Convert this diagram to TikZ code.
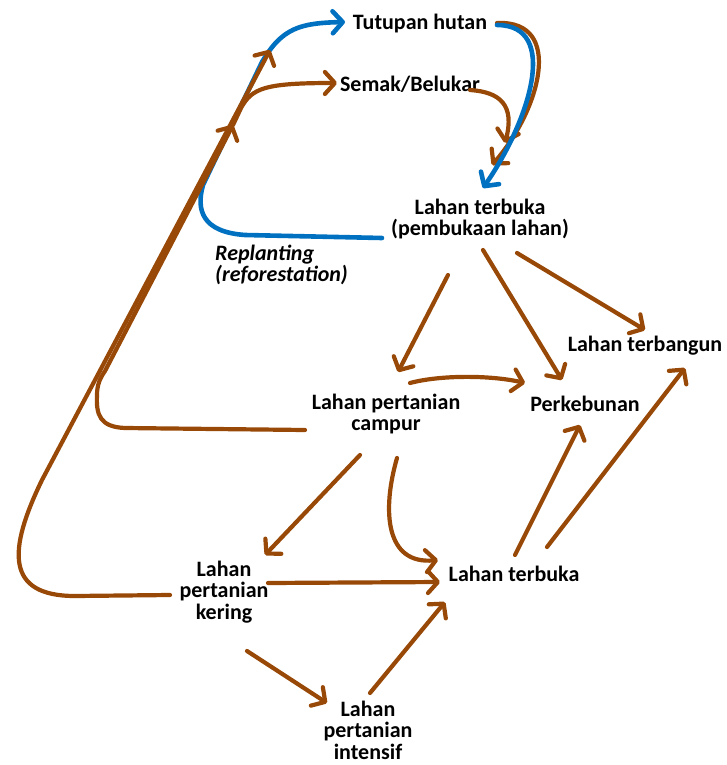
\documentclass[tikz,border=0pt]{standalone}
\usepackage{fontspec}
\setmainfont{Carlito}
\usepackage{tikz}
\usetikzlibrary{arrows.meta}
\usetikzlibrary{calc}
\definecolor{tanah}{RGB}{152,72,7}
\definecolor{hutan}{RGB}{0,112,192}
\tikzstyle{land}=[font=\bfseries\fontsize{22}{21.5}\selectfont,align=center,inner sep=0pt]
\tikzstyle{note}=[font=\bfseries\itshape\fontsize{22}{21.5}\selectfont,align=left,inner sep=0pt,anchor=west]
\tikzstyle{flow}=[draw=tanah,line width=4.2pt,line cap=round,line join=round,-{Straight Barb[length=10pt,width=22pt,round]}]
\tikzstyle{reflow}=[flow,draw=hutan,line width=4.6pt]

\begin{document}
\begin{tikzpicture}[x=1pt,y=-1pt]
\useasboundingbox (0,0) rectangle (727,765);

\node [land] (th) at (420,24) {Tutupan hutan};
\node [land] (sb) at (410,84) {Semak/Belukar};
\node [land] (pemb) at (480,219) {Lahan terbuka\\(pembukaan lahan)};
\node [note] (rep) at (215,265) {Replanting\\(reforestation)};
\node [land] (tb) at (645,346) {Lahan terbangun};
\node [land] (kb) at (585,404) {Perkebunan};
\node [land] (cp) at (386,414) {Lahan pertanian\\campur};
\node [land] (kr) at (224,592) {Lahan\\pertanian\\kering};
\node [land] (lt) at (514,574) {Lahan terbuka};
\node [land] (ins) at (368,730) {Lahan\\pertanian\\intensif};

\coordinate (up) at (270,50);
\coordinate (jn) at (233,125);

% replanting, under the brown lines
\draw [reflow] ($(pemb)+(-98,19)$) -- (245,235) .. controls (202,232) and (196,210) .. (203,185)
  -- (262,62) .. controls (282,28) and (300,23) .. ($(th)+(-75,-2)$);

\draw [flow] ($(kr)+(-54,3)$) -- (75,596) .. controls (5,596) and (8,550) .. (42,480) -- (up);
\draw [flow] ($(cp)+(-81,16)$) -- (125,428) .. controls (100,427) and (96,415) .. (97,395)
  .. controls (97,385) and (100,378) .. (105,371) -- (jn);
\draw [flow] (jn) -- (241,108) .. controls (252,88) and (265,83) .. ($(sb)+(-73,-1)$);

\draw [flow] ($(th)+(77,-1)$) .. controls (565,20) and (540,110) .. ($(pemb)+(12,-54)$);
\draw [flow] ($(sb)+(60,6)$) .. controls (500,92) and (515,105) .. ($(pemb)+(25,-76)$);
\draw [reflow] ($(th)+(77,1)$) .. controls (560,25) and (530,120) .. ($(pemb)+(3,-31)$);

\draw [flow] ($(pemb)+(-32,56)$) -- ($(cp)+(12,-42)$);
\draw [flow] ($(pemb)+(3,31)$) -- ($(kb)+(-23,-24)$);
\draw [flow] ($(pemb)+(37,34)$) -- ($(tb)+(0,-16)$);
\draw [flow] ($(cp)+(24,-31)$) .. controls (440,375) and (490,375) .. ($(kb)+(-60,-21)$);
\draw [flow] ($(cp)+(-26,41)$) -- ($(kr)+(41,-37)$);
\draw [flow] ($(cp)+(11,44)$) .. controls (382,510) and (385,565) .. ($(lt)+(-76,-14)$);
\draw [flow] ($(kr)+(44,-9)$) -- ($(lt)+(-74,8)$);
\draw [flow] ($(kr)+(23,59)$) -- ($(ins)+(-41,-27)$);
\draw [flow] ($(ins)+(2,-37)$) -- ($(lt)+(-69,28)$);
\draw [flow] ($(lt)+(1,-19)$) -- ($(kb)+(-5,21)$);
\draw [flow] ($(lt)+(33,-27)$) -- ($(tb)+(40,22)$);
\end{tikzpicture}
\end{document}
